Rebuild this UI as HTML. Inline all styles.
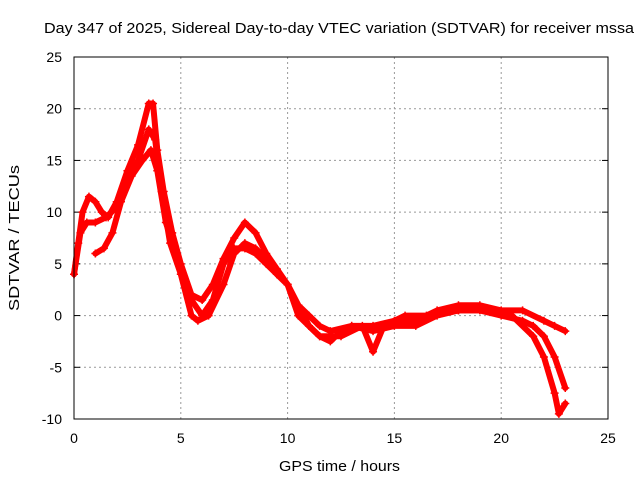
<!DOCTYPE html>
<html><head><meta charset="utf-8"><style>
body{margin:0;background:#fff}
svg{display:block;font-family:"Liberation Sans",sans-serif}
</style></head><body>
<svg id="chart" width="640" height="480">
<rect width="640" height="480" fill="#fff"/>
<text x="44" y="33" font-size="15" textLength="590" lengthAdjust="spacingAndGlyphs">Day 347 of 2025, Sidereal Day-to-day VTEC variation (SDTVAR) for receiver mssa</text>
<g id="grid"></g><g id="ticks"></g><g id="series"></g>
<rect x="74" y="57" width="534" height="362" fill="none" stroke="#000" stroke-width="1"/>
<text x="279" y="471" font-size="15" textLength="121" lengthAdjust="spacingAndGlyphs">GPS time / hours</text>
<text transform="translate(19,238) rotate(-90)" font-size="15" text-anchor="middle" textLength="146" lengthAdjust="spacingAndGlyphs">SDTVAR / TECUs</text>
</svg>
<script>
const xTicks=[0,5,10,15,20,25];
const yTicks=[-10,-5,0,5,10,15,20,25];
const trackAx=[0,0.2,0.4,0.7,1,1.3,1.6,2,2.5,3,3.5,3.7,3.9,4.2,4.6,5,5.5,6,6.5,7,7.5,8,8.5,9,9.5,10,10.5,11,11.5,12,13,14,15,16,17,18,19,20,21,22,22.5,23];
const trackAy=[4,7,10,11.5,11,10,9.5,11,14,16.5,20.5,20.5,16,12,8,5,2,1.5,3,5.5,7.5,9,8,6,4.5,3,1,0,-1,-1.5,-1,-1,-0.5,-0.5,0.5,1,1,0.5,0.5,-0.5,-1,-1.5];
const trackBx=[0,0.3,0.6,1,1.5,2,2.5,3,3.5,3.8,4.1,4.5,5,5.5,5.8,6.3,7,7.5,8,8.5,9,9.5,10,10.5,11,11.5,12,12.5,13,14,15,16,17,18,19,20,21,21.5,22,22.5,23];
const trackBy=[4,8,9,9,9.5,10.5,13,15,18,17,12,7,4,0,-0.5,0,3,6,7,6.5,5.5,4,3,1,-1,-2,-2.5,-1.5,-1,-1.5,-1,-1,0,0.5,0.5,0,-0.5,-1,-2,-4,-7];
const trackCx=[1,1.4,1.8,2.2,2.7,3.2,3.6,3.9,4.3,5,5.5,6,6.5,7,7.5,8,8.5,9,9.5,10,10.5,11,11.5,12.5,13.5,14,14.5,15.5,16.5,18,19.5,20.5,21.5,22,22.5,22.7,23];
const trackCy=[6,6.5,8,11,13.5,15,16,14,9,4.5,1.5,0,1.5,5,6.5,6.5,6,5,4,3,0,-1,-2,-2,-1,-3.5,-1,0,0,0.5,0.5,0,-2,-4,-7.5,-9.5,-8.5];
const NS="http://www.w3.org/2000/svg";
const X=v=>74+v*(534/25);
const Y=v=>419-(v+10)*(362/35);
const grid=document.getElementById('grid'),ticks=document.getElementById('ticks'),series=document.getElementById('series');
function mk(tag,attrs,parent){const e=document.createElementNS(NS,tag);for(const k in attrs)e.setAttribute(k,attrs[k]);parent.appendChild(e);return e;}
xTicks.forEach(t=>{
 if(t>0&&t<25){const g=mk('line',{x1:X(t),x2:X(t),y1:57,y2:419,stroke:'#999','stroke-dasharray':'2,3'},grid);
 
 }
 const l=mk('text',{x:X(t),y:443,'font-size':14,'text-anchor':'middle'},ticks);l.textContent=t;
 
 
});
yTicks.forEach(t=>{
 if(t>-10&&t<25){const g=mk('line',{x1:74,x2:608,y1:Y(t),y2:Y(t),stroke:'#999','stroke-dasharray':'2,3'},grid);
 
 }
 mk('line',{x1:74,x2:80,y1:Y(t),y2:Y(t),stroke:'#000'},ticks);
 mk('line',{x1:602,x2:608,y1:Y(t),y2:Y(t),stroke:'#000'},ticks);
 const l=mk('text',{x:62,y:Y(t)+5,'font-size':14,'text-anchor':'end'},ticks);l.textContent=t;
 
 
});
[[trackAx,trackAy,'track-a'],[trackBx,trackBy,'track-b'],[trackCx,trackCy,'track-c']].forEach(([xs,ys,n])=>{
 const p=mk('polyline',{points:xs.map((x,i)=>X(x)+','+Y(ys[i])).join(' '),fill:'none',stroke:'#f00','stroke-width':6,'stroke-linejoin':'round','stroke-linecap':'round'},series);
 
 
 xs.forEach((x,i)=>{const t=mk('path',{d:`M${X(x)-4},${Y(ys[i])}h8M${X(x)},${Y(ys[i])-4}v8`,stroke:'#f00','stroke-width':1.5},series);
 
 });
});
</script>
</body></html>
